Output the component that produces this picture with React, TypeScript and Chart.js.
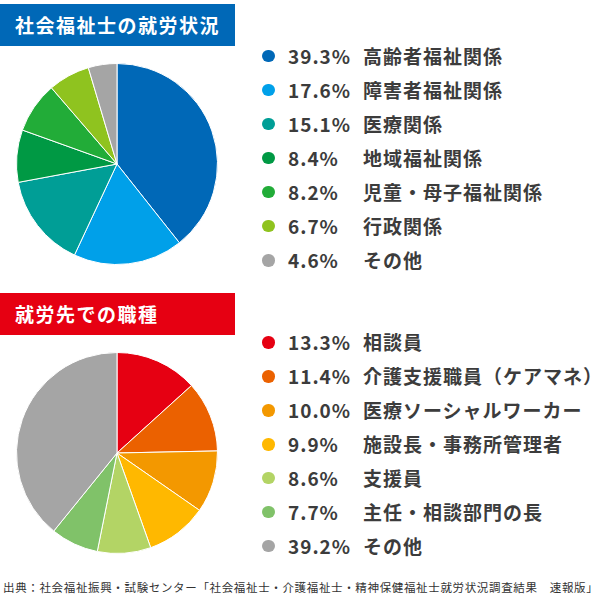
import React, { useEffect, useRef } from "react";
import { Chart, registerables } from "chart.js";

Chart.register(...registerables);

const topTitle = "社会福祉士の就労状況";
const topLabels = ["高齢者福祉関係", "障害者福祉関係", "医療関係", "地域福祉関係", "児童・母子福祉関係", "行政関係", "その他"];
const topValues = [39.3, 17.6, 15.1, 8.4, 8.2, 6.7, 4.6];
const topColors = ["#0068B7", "#00A0E9", "#009E96", "#009944", "#22AC38", "#8FC31F", "#A5A5A5"];

const bottomTitle = "就労先での職種";
const bottomLabels = ["相談員", "介護支援職員（ケアマネ）", "医療ソーシャルワーカー", "施設長・事務所管理者", "支援員", "主任・相談部門の長", "その他"];
const bottomValues = [13.3, 11.4, 10.0, 9.9, 8.6, 7.7, 39.2];
const bottomColors = ["#E60012", "#EB6100", "#F39800", "#FFB800", "#B3D465", "#80C269", "#A5A5A5"];

const sourceText = "出典：社会福祉振興・試験センター「社会福祉士・介護福祉士・精神保健福祉士就労状況調査結果　速報版」";

const FONT = '"Noto Sans CJK JP", "Noto Sans", sans-serif';

function Pie({ values, colors, labels, left, top, size }: { values: number[]; colors: string[]; labels: string[]; left: number; top: number; size: number }) {
  const ref = useRef<HTMLCanvasElement | null>(null);
  useEffect(() => {
    if (!ref.current) return;
    const chart = new Chart(ref.current, {
      type: "pie",
      data: {
        labels,
        datasets: [{ data: values, backgroundColor: colors, borderColor: "#ffffff", borderWidth: 1 }],
      },
      options: {
        animation: false,
        responsive: false,
        maintainAspectRatio: false,
        layout: { padding: 0 },
        plugins: { legend: { display: false }, tooltip: { enabled: false } },
      },
    });
    return () => chart.destroy();
  }, []);
  return (
    <canvas
      ref={ref}
      width={size}
      height={size}
      style={{ position: "absolute", left, top, width: size, height: size }}
    />
  );
}

function Legend({ values, colors, labels, top, step }: { values: number[]; colors: string[]; labels: string[]; top: number; step: number }) {
  const textStyle: React.CSSProperties = {
    position: "absolute",
    height: 28,
    lineHeight: "28px",
    fontSize: 19,
    fontWeight: 700,
    color: "#3c3c3c",
    letterSpacing: 1,
    whiteSpace: "nowrap",
  };
  return (
    <>
      {values.map((v, i) => {
        const cy = top + i * step;
        return (
          <React.Fragment key={i}>
            <div
              style={{
                position: "absolute",
                left: 262,
                top: cy - 6,
                width: 12.5,
                height: 12.5,
                borderRadius: 6.25,
                background: colors[i],
              }}
            />
            <div style={{ ...textStyle, left: 288, top: cy - 14 }}>{v.toFixed(1)}%</div>
            <div style={{ ...textStyle, left: 363, top: cy - 14 }}>{labels[i]}</div>
          </React.Fragment>
        );
      })}
    </>
  );
}

function Banner({ text, color, top }: { text: string; color: string; top: number }) {
  return (
    <div
      style={{
        position: "absolute",
        left: 0,
        top,
        width: 235,
        height: 42,
        background: color,
        color: "#ffffff",
        fontSize: 19,
        fontWeight: 700,
        letterSpacing: 1.5,
        lineHeight: "42px",
        paddingLeft: 15,
        boxSizing: "border-box",
        whiteSpace: "nowrap",
      }}
    >
      {text}
    </div>
  );
}

export default function App() {
  return (
    <div
      style={{
        position: "absolute",
        left: 0,
        top: 0,
        width: 600,
        height: 600,
        background: "#ffffff",
        fontFamily: FONT,
        overflow: "hidden",
      }}
    >
      <Banner text={topTitle} color="#0068B7" top={4} />
      <Pie values={topValues} colors={topColors} labels={topLabels} left={16} top={63} size={202} />
      <Legend values={topValues} colors={topColors} labels={topLabels} top={55.7} step={34.05} />

      <Banner text={bottomTitle} color="#E60012" top={293} />
      <Pie values={bottomValues} colors={bottomColors} labels={bottomLabels} left={16} top={352} size={202} />
      <Legend values={bottomValues} colors={bottomColors} labels={bottomLabels} top={342.3} step={33.9} />

      <div
        style={{
          position: "absolute",
          left: 3,
          top: 578,
          height: 18,
          lineHeight: "18px",
          fontSize: 11.5,
          color: "#333333",
          letterSpacing: 0.65,
          whiteSpace: "nowrap",
        }}
      >
        {sourceText}
      </div>
    </div>
  );
}
